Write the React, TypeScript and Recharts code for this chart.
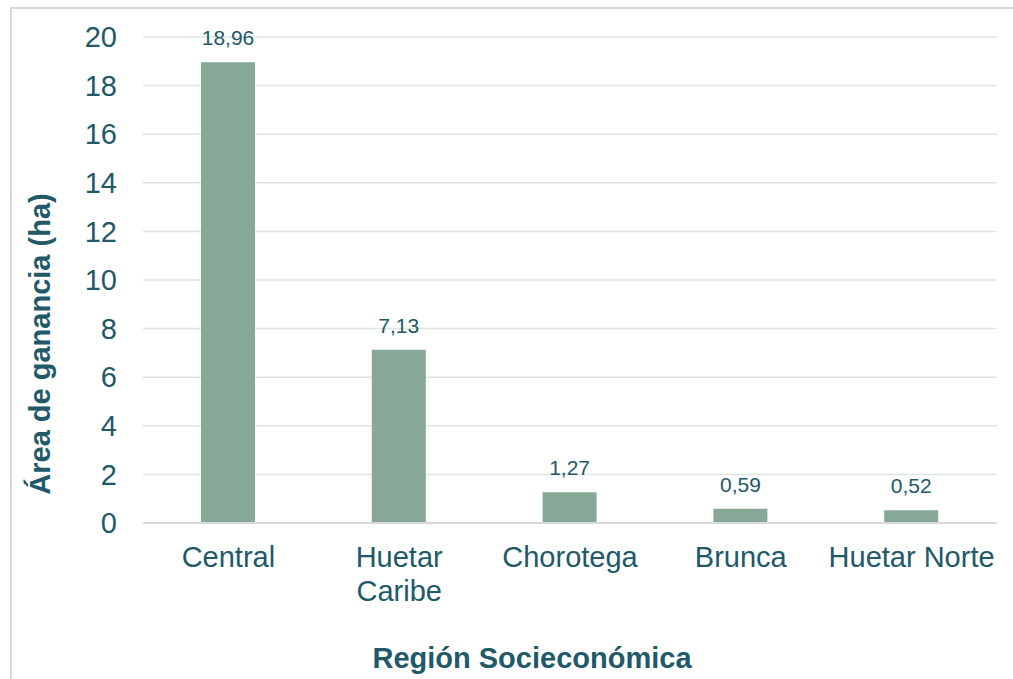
import { Bar, BarChart, CartesianGrid, LabelList, XAxis, YAxis, Label } from "recharts";

const regions = ["Central", "Huetar Caribe", "Chorotega", "Brunca", "Huetar Norte"];
const gainArea = [18.96, 7.13, 1.27, 0.59, 0.52];
const regionTickLines = [["Central"], ["Huetar", "Caribe"], ["Chorotega"], ["Brunca"], ["Huetar Norte"]];
const yTicks = [0, 2, 4, 6, 8, 10, 12, 14, 16, 18, 20];

const data = regions.map((r, i) => ({ region: r, value: gainArea[i] }));

const TEXT = "#215968";
const FONT = "'Liberation Sans', Arial, sans-serif";

const fmt = (v: any) => Number(v).toFixed(2).replace(".", ",");

// category names, "Huetar Caribe" broken over two lines
function RegionTick({ x, y, index }: any) {
  const lines = regionTickLines[index] || [];
  return (
    <text x={x} y={y + 44} textAnchor="middle" fill={TEXT} fontSize={29} fontFamily={FONT}>
      {lines.map((l, i) => (
        <tspan key={l} x={x} dy={i === 0 ? 0 : 34}>
          {l}
        </tspan>
      ))}
    </text>
  );
}

export default function App() {
  return (
    <div style={{ position: "absolute", left: 0, top: 0, width: 1013, height: 679, overflow: "hidden", background: "#fff" }}>
      <div
        style={{
          position: "absolute",
          left: 10,
          top: 7,
          width: 1100,
          height: 800,
          border: "2px solid #d9d9d9",
        }}
      />
      <div style={{ position: "absolute", left: 0, top: 0 }}>
        <BarChart
          width={1013}
          height={679}
          data={data}
          margin={{ top: 37, right: 16, left: 10, bottom: 0 }}
          style={{ fontFamily: FONT }}
        >
          <CartesianGrid horizontal vertical={false} stroke="#dbe6e2" strokeWidth={1.5} />
          <XAxis
            dataKey="region"
            height={156}
            tickLine={false}
            tickSize={0}
            tickMargin={0}
            axisLine={{ stroke: "#d9d9d9", strokeWidth: 2 }}
            tick={<RegionTick />}
            interval={0}
          >
            <Label
              content={({ viewBox }: any) => (
                <text
                  x={viewBox.x + viewBox.width / 2 - 38}
                  y={viewBox.y + 145}
                  textAnchor="middle"
                  fill={TEXT}
                  fontSize={29}
                  fontWeight="bold"
                  fontFamily={FONT}
                >
                  Región Socieconómica
                </text>
              )}
            />
          </XAxis>
          <YAxis
            width={133}
            domain={[0, 20]}
            ticks={yTicks}
            tickLine={false}
            axisLine={false}
            tickSize={0}
            tickMargin={26}
            tick={{ fill: TEXT, fontSize: 29, fontFamily: FONT }}
          >
            <Label
              content={({ viewBox }: any) => {
                const cx = viewBox.x + 30;
                const cy = viewBox.y + viewBox.height / 2 + 64;
                return (
                  <text
                    x={cx}
                    y={cy}
                    transform={`rotate(-90 ${cx} ${cy})`}
                    textAnchor="middle"
                    dominantBaseline="central"
                    fill={TEXT}
                    fontSize={29}
                    fontWeight="bold"
                    fontFamily={FONT}
                  >
                    Área de ganancia (ha)
                  </text>
                );
              }}
            />
          </YAxis>
          <Bar dataKey="value" fill="#87a897" barSize={54} isAnimationActive={false}>
            <LabelList
              dataKey="value"
              position="top"
              offset={17}
              formatter={fmt}
              fill={TEXT}
              fontSize={21}
              fontFamily={FONT}
            />
          </Bar>
        </BarChart>
      </div>
    </div>
  );
}
